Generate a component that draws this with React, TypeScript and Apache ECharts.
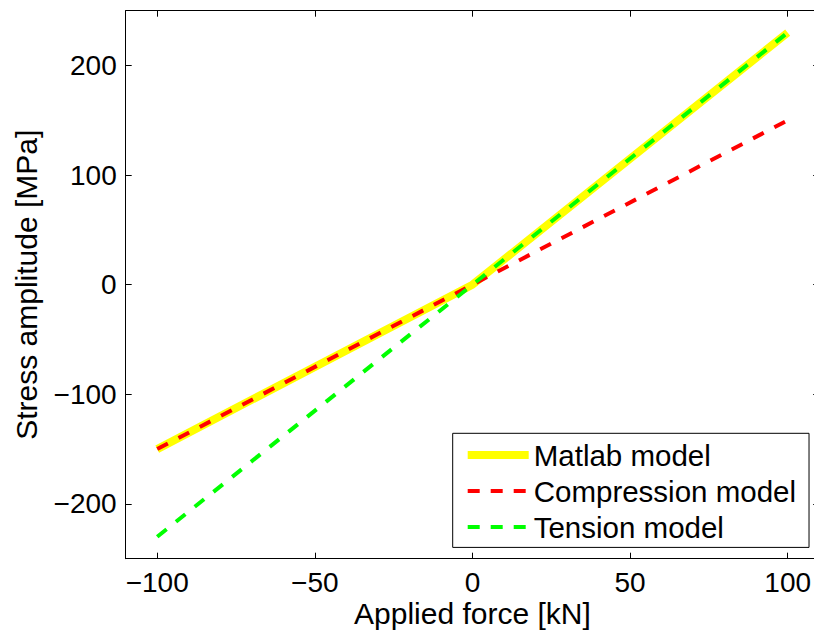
import React, { useEffect, useRef } from "react";
import * as echarts from "echarts";

const forceTicks = [-100, -50, 0, 50, 100];
const stressTicks = [-200, -100, 0, 100, 200];
const seriesNames = ["Matlab model", "Compression model", "Tension model"];
const matlabForce = [-100, 0, 100];
const matlabStress = [-150, 0, 230];
const compressionForce = [-100, 100];
const compressionStress = [-150, 150];
const tensionForce = [-100, 100];
const tensionStress = [-230, 230];

const FONT = "'Liberation Sans', Arial, Helvetica, sans-serif";
const fmt = (v: number) => String(v).replace("-", "\u2212");
const zip = (xs: number[], ys: number[]) => xs.map((x, i) => [x, ys[i]]);

export default function App() {
  const ref = useRef<HTMLDivElement>(null);
  useEffect(() => {
    if (!ref.current) return;
    const chart = echarts.init(ref.current, null, { renderer: "svg" });
    const axisLine = { show: true, onZero: false, lineStyle: { color: "#000", width: 1 } };
    const tickX = { show: true, inside: true, length: 6, customValues: forceTicks, lineStyle: { color: "#000", width: 1 } };
    const tickY = { show: true, inside: true, length: 6, customValues: stressTicks, lineStyle: { color: "#000", width: 1 } };
    const nameStyle = { fontSize: 30, lineHeight: 28, color: "#000", fontFamily: FONT };
    chart.setOption({
      animation: false,
      backgroundColor: "#fff",
      grid: { left: 125.7, top: 10.7, right: -5.2, bottom: 72.3, containLabel: false, outerBoundsMode: "none" },
      xAxis: [
        {
          type: "value", min: -110, max: 110, position: "bottom",
          axisLine, axisTick: tickX,
          axisLabel: { customValues: forceTicks, formatter: fmt, fontSize: 28, lineHeight: 28, color: "#000", fontFamily: FONT, margin: 10 },
          splitLine: { show: false },
          name: "Applied force [kN]", nameLocation: "middle", nameGap: 41, nameMoveOverlap: false, nameTextStyle: nameStyle,
        },
        {
          type: "value", min: -110, max: 110, position: "top",
          axisLine, axisTick: tickX, axisLabel: { show: false }, splitLine: { show: false },
        },
      ],
      yAxis: [
        {
          type: "value", min: -250, max: 250, position: "left",
          axisLine, axisTick: tickY,
          axisLabel: { customValues: stressTicks, formatter: fmt, fontSize: 28, color: "#000", fontFamily: FONT, margin: 9 },
          splitLine: { show: false },
          name: "Stress amplitude [MPa]", nameLocation: "middle", nameGap: 85, nameMoveOverlap: false, nameTextStyle: nameStyle,
        },
        {
          type: "value", min: -250, max: 250, position: "right",
          axisLine, axisTick: tickY, axisLabel: { show: false }, splitLine: { show: false },
        },
      ],
      legend: {
        orient: "vertical",
        left: 452.7, top: 433.3,
        padding: [6.7, 13, 5.4, 11],
        itemWidth: 61, itemHeight: 30, itemGap: 6,
        borderColor: "#000", borderWidth: 1, borderRadius: 0,
        backgroundColor: "#fff",
        itemStyle: { opacity: 0, borderWidth: 0 },
        textStyle: { fontSize: 29.5, color: "#000", fontFamily: FONT },
        data: [
          { name: seriesNames[0], lineStyle: { width: 8, color: "#ffff00", type: "solid" } },
          { name: seriesNames[1], lineStyle: { width: 4, color: "#ff0000", type: [12, 11] } },
          { name: seriesNames[2], lineStyle: { width: 4, color: "#00ff00", type: [12, 11] } },
        ],
      },
      series: [
        {
          name: seriesNames[0], type: "line", data: zip(matlabForce, matlabStress),
          symbol: "none", lineStyle: { color: "#ffff00", width: 8, type: "solid", cap: "butt" },
          itemStyle: { color: "#ffff00" },
        },
        {
          name: seriesNames[1], type: "line", data: zip(compressionForce, compressionStress),
          symbol: "none", lineStyle: { color: "#ff0000", width: 4, type: [12, 12], cap: "butt" },
          itemStyle: { color: "#ff0000" },
        },
        {
          name: seriesNames[2], type: "line", data: zip(tensionForce, tensionStress),
          symbol: "none", lineStyle: { color: "#00ff00", width: 4, type: [12, 12], cap: "butt" },
          itemStyle: { color: "#00ff00" },
        },
      ],
    });
    return () => chart.dispose();
  }, []);
  return <div ref={ref} style={{ position: "fixed", left: 0, top: 0, width: 814, height: 631 }} />;
}
